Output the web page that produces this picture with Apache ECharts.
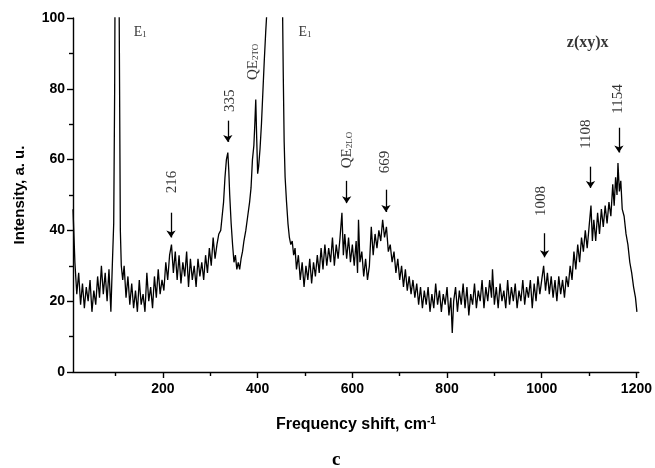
<!DOCTYPE html>
<html>
<head>
<meta charset="utf-8">
<script src="https://cdn.jsdelivr.net/npm/echarts@6/dist/echarts.min.js"></script>
<style>
html,body{margin:0;padding:0;background:#fff;}
#chart{width:655px;height:468px;}
</style>
</head>
<body>
<div id="chart"></div>
<script>
// Raman shift (cm-1)
const shift = [
10,14,18,22,26,30,34,38,42,46,50,54,58,62,66,70,74,78,82,86,90,
93,96,98,100,103,106,108,110,112,115,
118,122,126,130,134,138,142,146,150,154,158,162,166,170,174,178,182,186,190,194,198,202,206,210,
214,218,222,226,230,234,238,242,246,250,254,258,262,266,270,274,278,282,286,290,294,298,302,306,310,314,318,322,325,
328,331,334,337,339,341,344,347,350,353,356,359,362,365,368,371,375,379,383,386,389,392,394,396,398,400,
402,405,408,411,414,417,420,425,430,440,448,452,454,456,458,461,464,467,470,473,476,479,482,486,490,494,498,
502,506,510,514,518,522,526,530,534,538,542,546,550,554,558,562,566,570,574,578,581,584,588,592,596,
600,604,608,611,613,616,620,624,628,632,636,640,644,648,652,656,660,664,668,672,676,680,684,688,692,696,
700,704,708,712,716,720,724,728,732,736,740,744,748,752,756,760,764,768,772,776,780,784,788,792,796,
800,804,808,811,814,818,822,826,830,834,838,842,846,850,854,858,862,866,870,874,878,882,886,890,894,896,
900,904,908,912,916,920,924,928,932,936,940,944,948,952,956,960,964,968,972,976,980,984,988,992,996,
1000,1004,1008,1012,1016,1020,1024,1028,1032,1036,1040,1044,1048,1052,1056,1060,1064,1068,1072,1076,1080,1084,1088,1092,1096,
1100,1104,1107,1110,1114,1118,1122,1126,1130,1134,1138,1142,1146,1150,1153,1156,1159,1161,1164,1167,1170,1174,1178,1182,1186,1190,1194,1198,1201
];
// Intensity (a. u.)
const intensity = [
46,31,22,28,19,25,18,24,20,26,17,23,19,27,21,30,22,28,20,29,17,
30,42,80,150,150,140,90,40,30,26,
30,21,27,19,25,18,23,17,26,19,22,17,28,20,24,18,27,21,29,22,26,23,31,26,
33,36,28,34,26,33,25,31,27,34,24,32,26,30,24,32,27,31,26,33,28,35,30,38,32,36,39,40,44,
48,55,60,62,57,50,42,36,31,33,29,31,29,32,34,37,40,44,48,52,60,64,70,77,66,56,
58,63,70,79,88,96,103,120,130,140,130,110,85,65,55,48,42,38,36,37,33,35,29,33,26,31,24,
30,26,32,25,31,27,33,28,35,29,36,30,35,31,38,30,36,32,38,45,33,39,32,38,31,
36,30,37,28,43,31,34,27,32,26,30,41,33,39,35,40,37,43,38,41,34,36,31,34,28,32,
26,30,24,29,23,27,22,26,21,25,19,24,18,23,19,24,17,22,18,25,19,23,17,22,19,
24,16,21,11,20,24,17,23,19,25,18,24,16,22,19,25,18,23,20,26,18,24,20,26,21,29,
19,24,18,25,20,23,18,26,19,24,20,25,18,23,20,26,19,24,21,26,18,25,20,27,22,
26,30,23,28,22,27,21,26,20,27,22,26,21,27,24,30,26,34,29,36,31,38,34,40,35,
41,47,37,43,37,45,39,46,41,47,42,48,44,53,47,55,50,59,51,54,46,44,39,36,31,28,24,21,17
];

// Arrow annotations
const arrowX   = [217, 337, 588, 671, 1006, 1103, 1163];
const arrowTop = [45, 71, 54, 51.5, 39.2, 58, 69];
const arrowTip = [38, 65, 47.7, 45.2, 32.4, 52, 62];

// Vertical peak labels
const peakLabel  = ['216', '335', 'QE2TO', 'QE2LO', '669', '1008', '1108', '1154'];
const peakLabelX = [219, 341, 390, 588, 670, 999, 1094, 1161];
const peakLabelY = [53.7, 76.6, 87.6, 62.7, 59.3, 48.3, 67.2, 77.1];

// Horizontal mode labels
const modeLabelX = [152, 500];
const modeLabelY = [96, 96];

const xTicks = [200, 400, 600, 800, 1000, 1200];
const xMinorTicks = [100, 300, 500, 700, 900, 1100];

const chart = echarts.init(document.getElementById('chart'));

const spectrum = shift.map((x, i) => [x, intensity[i]]);
const arrowLines = arrowX.map((x, i) => [{coord: [x, arrowTop[i]]}, {coord: [x, arrowTip[i]]}]);
const vLabels = peakLabel.map((t, i) => ({value: [peakLabelX[i], peakLabelY[i]], name: t}));
const hLabels = modeLabelX.map((x, i) => ({value: [x, modeLabelY[i]], name: 'E1'}));

const serif = 'Liberation Serif, Times New Roman, serif';
const sans = 'Liberation Sans, Arial, sans-serif';

function fmtLabel(t) {
  if (t.indexOf('QE') === 0) return '{b|QE}{s|' + t.slice(2) + '}';
  return '{b|' + t + '}';
}

chart.setOption({
  animation: false,
  backgroundColor: '#fff',
  grid: {left: 73, right: 16, top: 18, bottom: 96},
  title: {
    text: 'c', left: 327, top: 446,
    textStyle: {fontFamily: serif, fontWeight: 'bold', fontSize: 19, color: '#000'}
  },
  xAxis: [{
    type: 'value', min: 10, max: 1205,
    name: 'Frequency shift, cm{sup|-1}',
    nameLocation: 'middle', nameGap: 44,
    nameTextStyle: {fontFamily: sans, fontWeight: 'bold', fontSize: 16, color: '#000',
      rich: {sup: {fontFamily: sans, fontWeight: 'bold', fontSize: 10, color: '#000', verticalAlign: 'top', padding: [0, 0, 8, 0]}}},
    axisLine: {show: true, onZero: false, lineStyle: {color: '#000', width: 1.4}},
    axisTick: {show: true, inside: false, length: 6, customValues: xTicks, lineStyle: {color: '#000', width: 1.4}},
    axisLabel: {show: true, customValues: xTicks, margin: 10, formatter: v => String(v),
      fontFamily: sans, fontWeight: 'bold', fontSize: 14, color: '#000'},
    splitLine: {show: false}
  }, {
    type: 'value', min: 10, max: 1205, position: 'bottom',
    axisLine: {show: false},
    axisTick: {show: true, inside: false, length: 4, customValues: xMinorTicks, lineStyle: {color: '#000', width: 1.4}},
    axisLabel: {show: false},
    splitLine: {show: false}
  }],
  yAxis: {
    type: 'value', min: 0, max: 100, interval: 20,
    name: 'Intensity, a. u.',
    nameLocation: 'middle', nameGap: 46,
    nameTextStyle: {fontFamily: sans, fontWeight: 'bold', fontSize: 15, color: '#000'},
    axisLine: {show: true, lineStyle: {color: '#000', width: 1.4}},
    axisTick: {show: true, inside: false, length: 6, lineStyle: {color: '#000', width: 1.4}},
    minorTick: {show: true, splitNumber: 2, length: 4, lineStyle: {color: '#000', width: 1.4}},
    axisLabel: {margin: 8, formatter: v => String(v), fontFamily: sans, fontWeight: 'bold', fontSize: 14, color: '#000'},
    splitLine: {show: false}
  },
  series: [{
    type: 'line',
    data: spectrum,
    showSymbol: false,
    symbol: 'none',
    clip: true,
    lineStyle: {color: '#000', width: 1.3},
    markLine: {
      silent: true,
      symbol: ['none', 'arrow'],
      symbolSize: 7,
      label: {show: false},
      lineStyle: {color: '#000', width: 1.3, type: 'solid'},
      data: arrowLines
    }
  }, {
    type: 'scatter',
    data: vLabels,
    symbolSize: 0,
    silent: true,
    label: {
      show: true, position: 'inside', rotate: 90,
      formatter: p => fmtLabel(p.name),
      rich: {
        b: {fontFamily: serif, fontSize: 15, color: '#000'},
        s: {fontFamily: serif, fontSize: 9, color: '#000', verticalAlign: 'bottom', padding: [6, 0, 0, 0]}
      }
    }
  }, {
    type: 'scatter',
    data: hLabels,
    symbolSize: 0,
    silent: true,
    label: {
      show: true, position: 'inside',
      formatter: '{b|E}{s|1}',
      rich: {
        b: {fontFamily: serif, fontSize: 14, color: '#000'},
        s: {fontFamily: serif, fontSize: 9, color: '#000', verticalAlign: 'bottom', padding: [5, 0, 0, 0]}
      }
    }
  }, {
    type: 'scatter',
    data: [{value: [1097, 93], name: 'z(xy)x'}],
    symbolSize: 0,
    silent: true,
    label: {show: true, position: 'inside', formatter: '{b}', fontFamily: serif, fontWeight: 'bold', fontSize: 16, color: '#000'}
  }]
});
</script>
</body>
</html>
